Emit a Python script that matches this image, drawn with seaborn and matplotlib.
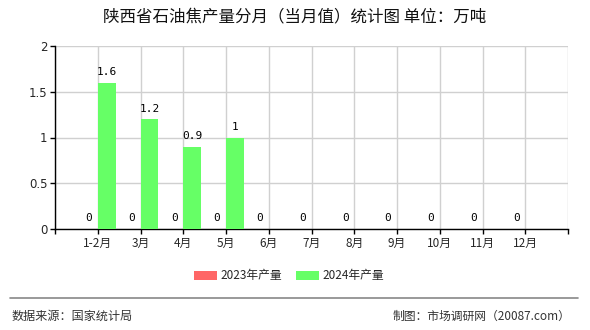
import numpy as np
import pandas as pd
import matplotlib
matplotlib.use("Agg")
import matplotlib.pyplot as plt
import seaborn as sns
from matplotlib.patches import Patch
from matplotlib.lines import Line2D

categories = ["1-2月", "3月", "4月", "5月", "6月", "7月", "8月", "9月", "10月", "11月", "12月"]
series_names = ["2023年产量", "2024年产量"]
values_2023 = [0, 0, 0, 0, 0, 0, 0, 0, 0, 0, 0]
values_2024 = [1.6, 1.2, 0.9, 1.0, np.nan, np.nan, np.nan, np.nan, np.nan, np.nan, np.nan]
y_ticks = [0, 0.5, 1, 1.5, 2]
y_tick_labels = ["0", "0.5", "1", "1.5", "2"]
colors = ["#FF6666", "#66FF66"]

title = "陕西省石油焦产量分月（当月值）统计图 单位：万吨"
source_text = "数据来源：国家统计局"
credit_text = "制图：市场调研网（20087.com）"

df = pd.DataFrame({
    "month": categories * 2,
    "series": [series_names[0]] * len(categories) + [series_names[1]] * len(categories),
    "value": values_2023 + values_2024,
})

sns.set_style("white")
plt.rcParams["font.family"] = ["Noto Sans CJK SC", "DejaVu Sans"]

fig = plt.figure(figsize=(5.9, 3.3), dpi=100)
ax = fig.add_axes([55 / 590, 1 - 229 / 330, (568 - 55) / 590, (229 - 46) / 330])

sns.barplot(data=df, x="month", y="value", hue="series", order=categories,
            hue_order=series_names, palette=dict(zip(series_names, colors)),
            width=0.84, dodge=True, errorbar=None, ax=ax, legend=False,
            saturation=1, linewidth=0, zorder=3)

for cont in ax.containers:
    labels = []
    for v in cont.datavalues:
        labels.append("" if (v is None or np.isnan(v)) else f"{v:g}")
    ax.bar_label(cont, labels=labels, padding=4, fontsize=8,
                 family=["DejaVu Sans Mono", "Noto Sans CJK SC"], color="black")

n = len(categories)
ax.set_xlim(-1, n)
ax.set_ylim(0, 2)
ax.set_xticks(list(range(-1, n + 1)))
ax.set_xticklabels([""] + categories + [""], fontsize=8.5)
ax.set_yticks(y_ticks)
ax.set_yticklabels(y_tick_labels, fontsize=8.5, family=["DejaVu Sans"])
ax.set_xlabel("")
ax.set_ylabel("")
ax.grid(True, color="#d0d0d0", linewidth=1, zorder=0)
ax.set_axisbelow(True)
for s in ["top", "right"]:
    ax.spines[s].set_visible(False)
for s in ["left", "bottom"]:
    ax.spines[s].set_color("black")
    ax.spines[s].set_linewidth(1)
ax.tick_params(axis="both", direction="out", length=3.5, width=1, color="black",
               bottom=True, left=True, pad=2)

fig.text(295 / 590, 1 - 17 / 330, title, ha="center", va="center", fontsize=11.9, color="#111111")

handles = [Patch(facecolor=c, edgecolor="none") for c in colors]
fig.legend(handles, series_names, loc="center", bbox_to_anchor=(0.49, 1 - 276 / 330),
           ncol=2, frameon=False, fontsize=8.5, handlelength=1.9, handleheight=0.9,
           columnspacing=1.2, handletextpad=0.3)

fig.add_artist(Line2D([10 / 590, 578 / 590], [1 - 298 / 330, 1 - 298 / 330],
                      color="#888888", linewidth=1.2))
fig.text(12 / 590, 1 - 316 / 330, source_text, ha="left", va="center", fontsize=8.7, color="#333333")
fig.text(570 / 590, 1 - 316 / 330, credit_text, ha="right", va="center", fontsize=8.5, color="#333333")

fig.savefig("out.png", dpi=100)
